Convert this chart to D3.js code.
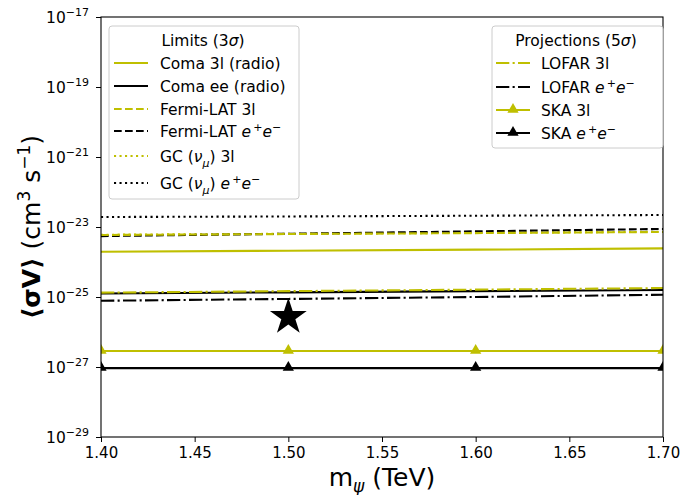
<!DOCTYPE html>
<html>
<head>
<meta charset="utf-8">
<script src="https://cdn.jsdelivr.net/npm/d3@7"></script>
<style>
  body { margin: 0; background: #fff; }
  text { font-family: "DejaVu Sans", sans-serif; fill: #000; }
</style>
</head>
<body>
<svg width="681" height="495"></svg>
<script>
// masses (TeV)
var masses = [1.40, 1.50, 1.60, 1.70];

// limits (3 sigma), <sigma v> in cm^3 s^-1
var coma3l   = [1.97e-24, 2.1e-24, 2.25e-24, 2.45e-24];
var comaEE   = [1.26e-25, 1.36e-25, 1.47e-25, 1.58e-25];
var fermi3l  = [5.9e-24, 6.3e-24, 6.7e-24, 7.2e-24];
var fermiEE  = [5.5e-24, 6.4e-24, 7.5e-24, 8.8e-24];
var gc3l     = [6.0e-24, 6.4e-24, 6.8e-24, 7.3e-24];
var gcEE     = [1.93e-23, 2.0e-23, 2.1e-23, 2.2e-23];

// projections (5 sigma)
var lofar3l  = [1.33e-25, 1.47e-25, 1.62e-25, 1.8e-25];
var lofarEE  = [7.8e-26, 8.8e-26, 1.0e-25, 1.16e-25];
var ska3l    = [2.86e-27, 2.86e-27, 2.86e-27, 2.86e-27];
var skaEE    = [9.3e-28, 9.3e-28, 9.3e-28, 9.3e-28];

// benchmark point
var starPoint = { m: 1.50, sv: 2.86e-26 };

var yTicks = [-17, -19, -21, -23, -25, -27, -29];
var xTicks = [1.40, 1.45, 1.50, 1.55, 1.60, 1.65, 1.70];

var olive = "#bfbf00";

var svg = d3.select("svg"),
    margin = {left: 101, right: 18, top: 17, bottom: 58},
    width = +svg.attr("width") - margin.left - margin.right,
    height = +svg.attr("height") - margin.top - margin.bottom;

var x = d3.scaleLinear().domain([1.40, 1.70]).range([0, width]);
var y = d3.scaleLog().domain([1e-29, 1e-17]).range([height, 0]);

var g = svg.append("g").attr("transform", "translate(" + margin.left + "," + margin.top + ")");

svg.append("defs").append("clipPath").attr("id", "clip")
  .append("rect").attr("width", width).attr("height", height);

var plot = g.append("g").attr("clip-path", "url(#clip)");

var series = [
  { vals: gcEE,    color: "#000", dash: "2.1,3.4" },
  { vals: gc3l,    color: olive,  dash: "2.1,3.4" },
  { vals: fermiEE, color: "#000", dash: "7.7,3.3" },
  { vals: fermi3l, color: olive,  dash: "7.7,3.3" },
  { vals: coma3l,  color: olive,  dash: null },
  { vals: comaEE,  color: "#000", dash: null },
  { vals: lofar3l, color: olive,  dash: "13.3,3.3,2.1,3.3" },
  { vals: lofarEE, color: "#000", dash: "13.3,3.3,2.1,3.3" },
  { vals: ska3l,   color: olive,  dash: null, marker: true },
  { vals: skaEE,   color: "#000", dash: null, marker: true }
];

var line = d3.line()
  .x(function (d) { return x(d[0]); })
  .y(function (d) { return y(d[1]); });

var tri = d3.symbol().type(d3.symbolTriangle).size(55);

series.forEach(function (s) {
  var pts = masses.map(function (m, i) { return [m, s.vals[i]]; });
  plot.append("path")
    .attr("d", line(pts))
    .attr("fill", "none")
    .attr("stroke", s.color)
    .attr("stroke-width", 2.1)
    .attr("stroke-dasharray", s.dash);
  if (s.marker) {
    plot.selectAll(null).data(pts).enter().append("path")
      .attr("d", tri)
      .attr("transform", function (d) { return "translate(" + x(d[0]) + "," + (y(d[1]) - 0.5) + ")"; })
      .attr("fill", s.color);
  }
});

plot.append("path")
  .attr("d", d3.symbol().type(d3.symbolStar).size(420))
  .attr("transform", "translate(" + x(starPoint.m) + "," + (y(starPoint.sv) + 1) + ")")
  .attr("fill", "#000");

// frame
g.append("rect").attr("width", width).attr("height", height)
  .attr("fill", "none").attr("stroke", "#000").attr("stroke-width", 1.1);

// x axis
var xAxis = g.append("g").attr("transform", "translate(0," + height + ")")
  .call(d3.axisBottom(x).tickValues(xTicks).tickFormat(d3.format(".2f")).tickSize(5).tickPadding(5));
xAxis.select(".domain").remove();
xAxis.selectAll("text").style("font-size", "15px").style("font-family", "DejaVu Sans");

// y axis with 10^n labels
var yAxis = g.append("g")
  .call(d3.axisLeft(y).tickValues(yTicks.map(function (e) { return Math.pow(10, e); })).tickFormat("").tickSize(5));
yAxis.select(".domain").remove();
yTicks.forEach(function (e) {
  var t = g.append("text")
    .attr("x", -12).attr("y", y(Math.pow(10, e)) + 6)
    .attr("text-anchor", "end")
    .style("font-size", "15.5px");
  t.append("tspan").text("10");
  t.append("tspan").attr("dy", -7).style("font-size", "11px").text("\u2212" + Math.abs(e));
});

// axis labels
var xl = svg.append("text")
  .attr("x", margin.left + width / 2).attr("y", 486)
  .attr("text-anchor", "middle").style("font-size", "25px");
xl.append("tspan").text("m");
xl.append("tspan").attr("dy", 6).style("font-size", "17px").style("font-style", "italic").text("\u03c8");
xl.append("tspan").attr("dy", -6).text(" (TeV)");

var yl = svg.append("text")
  .attr("transform", "translate(40," + (margin.top + height / 2) + ") rotate(-90)")
  .attr("text-anchor", "middle").style("font-size", "25px");
yl.append("tspan").style("font-weight", "bold").text("\u27e8\u03c3V\u27e9");
yl.append("tspan").text(" (cm");
yl.append("tspan").attr("dy", -10).style("font-size", "17px").text("3");
yl.append("tspan").attr("dy", 10).text(" s");
yl.append("tspan").attr("dy", -10).style("font-size", "17px").text("\u22121");
yl.append("tspan").attr("dy", 10).text(")");

// legend helpers
function labelParts(t, parts) {
  parts.forEach(function (p) {
    var s = t.append("tspan").text(p.t);
    if (p.i) s.style("font-style", "italic");
    if (p.sup) s.attr("dy", -6).style("font-size", "11px");
    if (p.sub) s.attr("dy", 5).style("font-size", "11px");
    if (p.back) s.attr("dy", p.back);
  });
}

var ee = [{t: "e", i: true}, {t: "\u2009+", sup: true}, {t: "e", i: true, back: 6}, {t: "\u2212", sup: true}];

function legend(x0, y0, w, h, title, titleX, rows, lineX0, lineX1, textX) {
  var lg = svg.append("g");
  lg.append("rect").attr("x", x0).attr("y", y0).attr("width", w).attr("height", h)
    .attr("rx", 3).attr("fill", "#fff").attr("fill-opacity", 0.8)
    .attr("stroke", "#cccccc").attr("stroke-width", 1);
  var tt = lg.append("text").attr("x", titleX).attr("y", y0 + 20)
    .attr("text-anchor", "middle").style("font-size", "15.5px");
  labelParts(tt, title);
  rows.forEach(function (r) {
    lg.append("line").attr("x1", lineX0).attr("x2", lineX1).attr("y1", r.y).attr("y2", r.y)
      .attr("stroke", r.color).attr("stroke-width", 2.1).attr("stroke-dasharray", r.dash);
    if (r.marker) {
      lg.append("path").attr("d", tri)
        .attr("transform", "translate(" + ((lineX0 + lineX1) / 2) + "," + (r.y - 0.5) + ")")
        .attr("fill", r.color);
    }
    var t = lg.append("text").attr("x", textX).attr("y", r.y + 5.5).style("font-size", "15.5px");
    labelParts(t, r.label);
  });
}

legend(109, 26, 190, 173, [{t: "Limits (3"}, {t: "\u03c3", i: true}, {t: ")"}], 203, [
  { y: 63,  color: olive,  dash: null, label: [{t: "Coma 3l (radio)"}] },
  { y: 86,  color: "#000", dash: null, label: [{t: "Coma ee (radio)"}] },
  { y: 109, color: olive,  dash: "7.7,3.3", label: [{t: "Fermi-LAT 3l"}] },
  { y: 131, color: "#000", dash: "7.7,3.3", label: [{t: "Fermi-LAT "}].concat(ee) },
  { y: 156, color: olive,  dash: "2.1,3.4", label: [{t: "GC ("}, {t: "\u03bd", i: true}, {t: "\u03bc", i: true, sub: true}, {t: ") 3l", back: -5}] },
  { y: 183, color: "#000", dash: "2.1,3.4", label: [{t: "GC ("}, {t: "\u03bd", i: true}, {t: "\u03bc", i: true, sub: true}, {t: ") ", back: -5}].concat(ee) }
], 114, 148, 160);

legend(492, 26, 171, 122, [{t: "Projections (5"}, {t: "\u03c3", i: true}, {t: ")"}], 576, [
  { y: 63,  color: olive,  dash: "13.3,3.3,2.1,3.3", label: [{t: "LOFAR 3l"}] },
  { y: 87,  color: "#000", dash: "13.3,3.3,2.1,3.3", label: [{t: "LOFAR "}].concat(ee) },
  { y: 110, color: olive,  dash: null, marker: true, label: [{t: "SKA 3l"}] },
  { y: 133, color: "#000", dash: null, marker: true, label: [{t: "SKA "}].concat(ee) }
], 496, 530, 541);
</script>
</body>
</html>
